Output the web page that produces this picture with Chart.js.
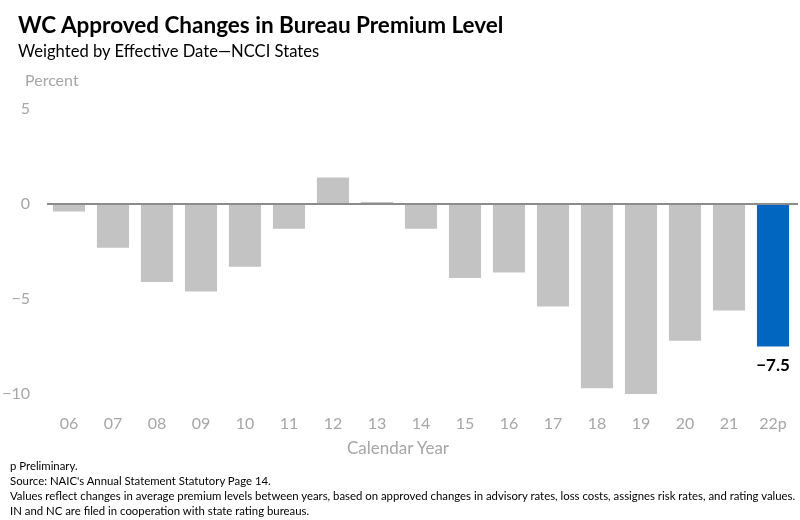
<!DOCTYPE html>
<html>
<head>
<meta charset="utf-8">
<script src="https://cdn.jsdelivr.net/npm/chart.js@4.4.0/dist/chart.umd.min.js"></script>
<style>
  body { margin: 0; background: #fff; font-family: Lato, 'Open Sans', sans-serif; }
  #wrap { position: relative; width: 800px; height: 520px; overflow: hidden; }
  #myChart { position: absolute; left: 0; top: 0; }
  .txt { position: absolute; white-space: nowrap; }
  #title { left: 18px; top: 11px; font-size: 22.5px; font-weight: 700; color: #000; }
  #sub { left: 18px; top: 41px; font-size: 16.6px; color: #000; }
  #unit { left: 25px; top: 70px; font-size: 16px; color: #a6a6a6; }
  #xtitle { left: 0; width: 796px; text-align: center; top: 437px; font-size: 17px; color: #a6a6a6; }
  #notes { left: 10px; top: 458px; font-size: 11px; line-height: 15px; color: #000; transform-origin: 0 0; }
</style>
</head>
<body>
<div id="wrap">
  <canvas id="myChart" width="800" height="520"></canvas>
  <div class="txt" id="title">WC Approved Changes in Bureau Premium Level</div>
  <div class="txt" id="sub">Weighted by Effective Date—NCCI States</div>
  <div class="txt" id="unit">Percent</div>
  <div class="txt" id="xtitle">Calendar Year</div>
  <div class="txt" id="notes">
    p Preliminary.<br>
    Source: NAIC's Annual Statement Statutory Page 14.<br>
    Values reflect changes in average premium levels between years, based on approved changes in advisory rates, loss costs, assignes risk rates, and rating values.<br>
    IN and NC are filed in cooperation with state rating bureaus.
  </div>
</div>
<script>
// calendar years and approved change (%)
const years = ['06','07','08','09','10','11','12','13','14','15','16','17','18','19','20','21','22p'];
const changes = [-0.4, -2.3, -4.1, -4.6, -3.3, -1.3, 1.4, 0.1, -1.3, -3.9, -3.6, -5.4, -9.7, -10.0, -7.2, -5.6, -7.5];
const yTicks = [5, 0, -5, -10];

const barColors = years.map(y => y === '22p' ? '#0066bf' : '#c3c3c3');
const minus = v => (v < 0 ? '\u2212' + Math.abs(v) : String(v));

// squeeze the footnotes like the narrow source font
const notes = document.getElementById('notes');
notes.style.transform = 'scaleX(' + (785 / notes.offsetWidth) + ')';

const lastLabel = {
  id: 'lastLabel',
  afterDatasetsDraw(chart) {
    const meta = chart.getDatasetMeta(0);
    const i = changes.length - 1;
    const bar = meta.data[i];
    const c = chart.ctx;
    c.save();
    c.font = 'bold 17px Lato';
    c.fillStyle = '#000';
    c.textAlign = 'center';
    c.textBaseline = 'top';
    c.fillText(minus(changes[i]), bar.x, bar.y + 11);
    c.restore();
  }
};

const zeroLine = {
  id: 'zeroLine',
  afterDatasetsDraw(chart) {
    const y0 = chart.scales.y.getPixelForValue(0);
    const c = chart.ctx;
    c.save();
    c.strokeStyle = '#8c8c8c';
    c.lineWidth = 2;
    c.beginPath();
    c.moveTo(chart.chartArea.left, y0);
    c.lineTo(chart.chartArea.right + 3, y0);
    c.stroke();
    c.restore();
  }
};

const ctx = document.getElementById('myChart');
const myChart = new Chart(ctx, {
  type: 'bar',
  data: {
    labels: years,
    datasets: [{
      data: changes,
      backgroundColor: barColors,
      categoryPercentage: 1,
      barPercentage: 0.73
    }]
  },
  options: {
    responsive: false,
    animation: false,
    layout: { padding: { top: 109, left: 0, right: 5, bottom: 60 } },
    plugins: { legend: { display: false }, tooltip: { enabled: false } },
    scales: {
      x: {
        grid: { display: false, drawTicks: false },
        border: { display: false },
        ticks: { color: '#a6a6a6', font: { family: 'Lato', size: 16 }, padding: 20, maxRotation: 0 },
        afterFit(s) { s.height = 66; s.paddingLeft = 0; s.paddingRight = 0; }
      },
      y: {
        min: -10,
        max: 5,
        afterBuildTicks(s) { s.ticks = yTicks.map(v => ({ value: v })); },
        grid: { display: false, drawTicks: false },
        border: { display: false },
        ticks: { color: '#a6a6a6', font: { family: 'Lato', size: 16 }, padding: 17, callback: v => minus(v) },
        afterFit(s) { s.width = 47; }
      }
    }
  },
  plugins: [zeroLine, lastLabel]
});
</script>
</body>
</html>
